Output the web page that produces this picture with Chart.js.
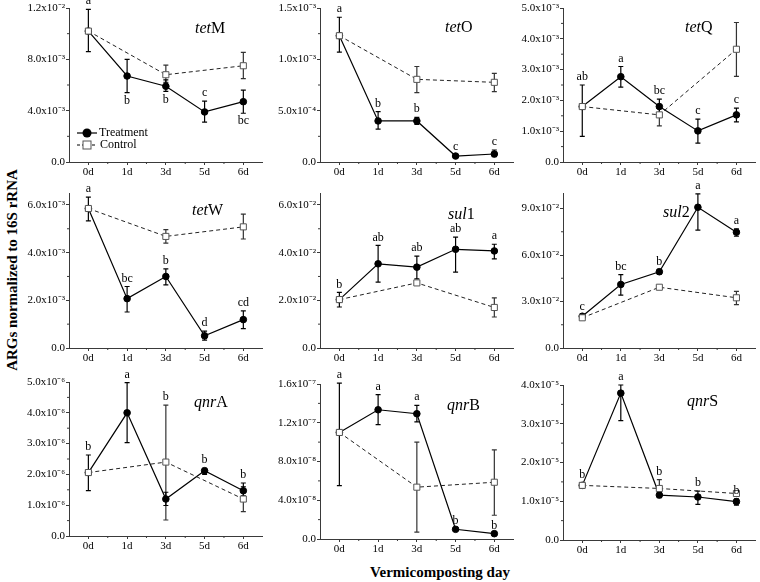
<!DOCTYPE html>
<html>
<head>
<meta charset="utf-8">
<script src="https://cdn.jsdelivr.net/npm/chart.js@4.4.1/dist/chart.umd.min.js"></script>
<style>
  html, body { margin: 0; padding: 0; background: #fff; }
  #wrap { position: relative; width: 760px; height: 582px; overflow: hidden; font-family: "Liberation Serif", "Times New Roman", serif; }
  #wrap canvas { position: absolute; }
  .axis-title { position: absolute; font-weight: bold; font-size: 15px; white-space: nowrap; color: #000; }
  #y-title { left: 12px; top: 270px; transform: translate(-50%, -50%) rotate(-90deg); }
  #x-title { left: 440px; top: 572px; transform: translate(-50%, -50%); }
</style>
</head>
<body>
<div id="wrap">
  <div id="y-title" class="axis-title">ARGs normalized to 16S rRNA</div>
  <div id="x-title" class="axis-title">Vermicomposting day</div>
</div>
<script>
const days = ["0d", "1d", "3d", "5d", "6d"];

// tetM
const tetM_trt = [10.2e-3, 6.7e-3, 5.9e-3, 3.9e-3, 4.7e-3];
const tetM_trtHi = [11.9e-3, 8.0e-3, 6.4e-3, 4.75e-3, 5.6e-3];
const tetM_trtLo = [8.6e-3, 5.4e-3, 5.5e-3, 3.1e-3, 3.8e-3];
const tetM_ctl = [10.2e-3, null, 6.8e-3, null, 7.5e-3];
const tetM_ctlHi = [null, null, 7.55e-3, null, 8.55e-3];
const tetM_ctlLo = [null, null, 6.2e-3, null, 6.5e-3];
const tetM_letters = ["a", "b", "b", "c", "bc"];
const tetM_yTicks = [0, 4e-3, 8e-3, 1.2e-2];

// tetO
const tetO_trt = [1.23e-3, 0.40e-3, 0.40e-3, 0.058e-3, 0.078e-3];
const tetO_trtHi = [1.41e-3, 0.49e-3, 0.435e-3, 0.07e-3, 0.117e-3];
const tetO_trtLo = [1.07e-3, 0.32e-3, 0.367e-3, 0.048e-3, 0.052e-3];
const tetO_ctl = [1.23e-3, null, 0.805e-3, null, 0.776e-3];
const tetO_ctlHi = [null, null, 0.93e-3, null, 0.864e-3];
const tetO_ctlLo = [null, null, 0.675e-3, null, 0.685e-3];
const tetO_letters = ["a", "b", "b", "c", "c"];
const tetO_yTicks = [0, 5e-4, 1.0e-3, 1.5e-3];

// tetQ
const tetQ_trt = [1.80e-3, 2.77e-3, 1.80e-3, 1.01e-3, 1.53e-3];
const tetQ_trtHi = [2.5e-3, 3.1e-3, 2.04e-3, 1.39e-3, 1.75e-3];
const tetQ_trtLo = [0.83e-3, 2.43e-3, 1.6e-3, 0.61e-3, 1.3e-3];
const tetQ_ctl = [1.80e-3, null, 1.53e-3, null, 3.66e-3];
const tetQ_ctlHi = [null, null, 1.85e-3, null, 4.53e-3];
const tetQ_ctlLo = [null, null, 1.17e-3, null, 2.78e-3];
const tetQ_letters = ["ab", "a", "bc", "c", "c"];
const tetQ_yTicks = [0, 1e-3, 2e-3, 3e-3, 4e-3, 5e-3];

// tetW
const tetW_trt = [5.85e-3, 2.07e-3, 3.0e-3, 0.51e-3, 1.19e-3];
const tetW_trtHi = [6.33e-3, 2.58e-3, 3.32e-3, 0.71e-3, 1.56e-3];
const tetW_trtLo = [5.33e-3, 1.51e-3, 2.65e-3, 0.33e-3, 0.81e-3];
const tetW_ctl = [5.85e-3, null, 4.68e-3, null, 5.08e-3];
const tetW_ctlHi = [null, null, 4.96e-3, null, 5.61e-3];
const tetW_ctlLo = [null, null, 4.4e-3, null, 4.57e-3];
const tetW_letters = ["a", "bc", "b", "d", "cd"];
const tetW_yTicks = [0, 2e-3, 4e-3, 6e-3];

// sul1
const sul1_trt = [2.03e-2, 3.53e-2, 3.39e-2, 4.14e-2, 4.07e-2];
const sul1_trtHi = [2.33e-2, 4.3e-2, 3.85e-2, 4.65e-2, 4.35e-2];
const sul1_trtLo = [1.72e-2, 2.76e-2, 2.9e-2, 3.18e-2, 3.74e-2];
const sul1_ctl = [2.03e-2, null, 2.73e-2, null, 1.70e-2];
const sul1_ctlHi = [null, null, 2.78e-2, null, 2.1e-2];
const sul1_ctlLo = [null, null, 2.68e-2, null, 1.3e-2];
const sul1_letters = ["b", "ab", "ab", "ab", "a"];
const sul1_yTicks = [0, 2e-2, 4e-2, 6e-2];

// sul2
const sul2_trt = [2.05e-2, 4.1e-2, 4.92e-2, 9.08e-2, 7.47e-2];
const sul2_trtHi = [2.15e-2, 4.74e-2, 5.07e-2, 9.95e-2, 7.69e-2];
const sul2_trtLo = [1.95e-2, 3.41e-2, 4.77e-2, 7.6e-2, 7.21e-2];
const sul2_ctl = [1.95e-2, null, 3.92e-2, null, 3.24e-2];
const sul2_ctlHi = [null, null, 4.02e-2, null, 3.65e-2];
const sul2_ctlLo = [null, null, 3.82e-2, null, 2.8e-2];
const sul2_letters = ["c", "bc", "b", "a", "a"];
const sul2_yTicks = [0, 3e-2, 6e-2, 9e-2];

// qnrA
const qnrA_trt = [2.06e-6, 4.0e-6, 1.2e-6, 2.12e-6, 1.47e-6];
const qnrA_trtHi = [2.63e-6, 4.98e-6, 1.42e-6, 2.2e-6, 1.72e-6];
const qnrA_trtLo = [1.47e-6, 3.03e-6, 0.99e-6, 2.0e-6, 1.3e-6];
const qnrA_ctl = [2.06e-6, null, 2.4e-6, null, 1.2e-6];
const qnrA_ctlHi = [null, null, 4.25e-6, null, 1.6e-6];
const qnrA_ctlLo = [null, null, 0.52e-6, null, 0.79e-6];
const qnrA_letters = ["b", "a", "b", "b", "b"];
const qnrA_yTicks = [0, 1e-6, 2e-6, 3e-6, 4e-6, 5e-6];

// qnrB
const qnrB_trt = [1.10e-7, 1.334e-7, 1.293e-7, 0.10e-7, 0.055e-7];
const qnrB_trtHi = [1.61e-7, 1.49e-7, 1.38e-7, null, null];
const qnrB_trtLo = [0.55e-7, 1.18e-7, 1.21e-7, null, null];
const qnrB_ctl = [1.10e-7, null, 0.535e-7, null, 0.586e-7];
const qnrB_ctlHi = [null, null, 1.0e-7, null, 0.92e-7];
const qnrB_ctlLo = [null, null, 0.07e-7, null, 0.245e-7];
const qnrB_letters = ["a", "a", "a", "b", "b"];
const qnrB_yTicks = [0, 4e-8, 8e-8, 1.2e-7, 1.6e-7];

// qnrS
const qnrS_trt = [1.41e-5, 3.79e-5, 1.16e-5, 1.11e-5, 0.99e-5];
const qnrS_trtHi = [1.48e-5, 4.0e-5, 1.23e-5, 1.26e-5, 1.06e-5];
const qnrS_trtLo = [1.34e-5, 3.08e-5, 1.09e-5, 0.92e-5, 0.9e-5];
const qnrS_ctl = [1.41e-5, null, 1.33e-5, null, 1.2e-5];
const qnrS_ctlHi = [null, null, 1.56e-5, null, 1.25e-5];
const qnrS_ctlLo = [null, null, 1.1e-5, null, 1.14e-5];
const qnrS_letters = ["b", "a", "b", "b", "b"];
const qnrS_yTicks = [0, 1e-5, 2e-5, 3e-5, 4e-5];

const yMax = [1.2e-2, 1.5e-3, 5e-3, 6.5e-3, 6.5e-2, 0.1, 5e-6, 1.6e-7, 4e-5];

// gene names: italic part + plain part
const geneItalic = ["tet", "tet", "tet", "tet", "sul", "sul", "qnr", "qnr", "qnr"];
const genePlain = ["M", "O", "Q", "W", "1", "2", "A", "B", "S"];

const trtAll = [tetM_trt, tetO_trt, tetQ_trt, tetW_trt, sul1_trt, sul2_trt, qnrA_trt, qnrB_trt, qnrS_trt];
const trtHiAll = [tetM_trtHi, tetO_trtHi, tetQ_trtHi, tetW_trtHi, sul1_trtHi, sul2_trtHi, qnrA_trtHi, qnrB_trtHi, qnrS_trtHi];
const trtLoAll = [tetM_trtLo, tetO_trtLo, tetQ_trtLo, tetW_trtLo, sul1_trtLo, sul2_trtLo, qnrA_trtLo, qnrB_trtLo, qnrS_trtLo];
const ctlAll = [tetM_ctl, tetO_ctl, tetQ_ctl, tetW_ctl, sul1_ctl, sul2_ctl, qnrA_ctl, qnrB_ctl, qnrS_ctl];
const ctlHiAll = [tetM_ctlHi, tetO_ctlHi, tetQ_ctlHi, tetW_ctlHi, sul1_ctlHi, sul2_ctlHi, qnrA_ctlHi, qnrB_ctlHi, qnrS_ctlHi];
const ctlLoAll = [tetM_ctlLo, tetO_ctlLo, tetQ_ctlLo, tetW_ctlLo, sul1_ctlLo, sul2_ctlLo, qnrA_ctlLo, qnrB_ctlLo, qnrS_ctlLo];
const lettersAll = [tetM_letters, tetO_letters, tetQ_letters, tetW_letters, sul1_letters, sul2_letters, qnrA_letters, qnrB_letters, qnrS_letters];
const yTicksAll = [tetM_yTicks, tetO_yTicks, tetQ_yTicks, tetW_yTicks, sul1_yTicks, sul2_yTicks, qnrA_yTicks, qnrB_yTicks, qnrS_yTicks];

// layout (page pixels)
const colAxisX = [69, 320, 563];
const colAreaW = [197, 197, 196];
const areaTop = [8, 8, 8, 193, 193, 193, 382, 384, 385];
const areaBottom = [162, 162, 162, 348, 348, 348, 536, 539, 540];
const titlePos = [[195, 29], [445, 28], [685, 28], [192, 211], [448, 215], [663, 213], [194, 403], [447, 406], [687, 402]];
// letters drawn below the bars instead of above
const letterDown = { 0: [false, true, true, false, true] };

const Y_W = 66, PAD_T = 12, PAD_R = 2, X_H = 22;
const SERIF = "'Liberation Serif', 'Times New Roman', serif";
const AXIS_COLOR = "#3a3a3a";

const SUP = { "-": "\u207B", "0": "\u2070", "1": "\u00B9", "2": "\u00B2", "3": "\u00B3", "4": "\u2074", "5": "\u2075", "6": "\u2076", "7": "\u2077", "8": "\u2078", "9": "\u2079" };
function sciLabel(v) {
  if (v === 0) return "0.0";
  const exp = Math.floor(Math.log10(v) + 1e-9);
  const mant = v / Math.pow(10, exp);
  return mant.toFixed(1) + "x10" + String(exp).split("").map((c) => SUP[c]).join("");
}

const errorBars = {
  id: "errorBars",
  beforeDatasetsDraw(chart) {
    const ctx = chart.ctx;
    const xs = chart.scales.x, ys = chart.scales.y;
    chart.data.datasets.forEach((ds) => {
      ctx.save();
      ctx.strokeStyle = ds.errColor;
      ctx.lineWidth = 1.2;
      ds.errHi.forEach((hi, j) => {
        const lo = ds.errLo[j];
        if (hi == null || lo == null) return;
        const x = xs.getPixelForValue(j);
        const yh = ys.getPixelForValue(hi), yl = ys.getPixelForValue(lo);
        ctx.beginPath();
        ctx.moveTo(x, yh); ctx.lineTo(x, yl);
        ctx.moveTo(x - 2.5, yh); ctx.lineTo(x + 2.5, yh);
        ctx.moveTo(x - 2.5, yl); ctx.lineTo(x + 2.5, yl);
        ctx.stroke();
      });
      ctx.restore();
    });
  },
};

const panelDecor = {
  id: "panelDecor",
  afterDraw(chart, args, opts) {
    const i = opts.panel;
    const ctx = chart.ctx;
    const xs = chart.scales.x, ys = chart.scales.y;
    const area = chart.chartArea;
    const offX = opts.left, offY = opts.top;

    // minor ticks
    ctx.save();
    ctx.strokeStyle = AXIS_COLOR;
    ctx.lineWidth = 1;
    ctx.beginPath();
    for (let j = 0; j < days.length - 1; j++) {
      const mx = (xs.getPixelForValue(j) + xs.getPixelForValue(j + 1)) / 2;
      ctx.moveTo(mx, area.bottom); ctx.lineTo(mx, area.bottom + 2);
    }
    const yt = yTicksAll[i];
    for (let j = 0; j < yt.length; j++) {
      const step = yt[1] - yt[0];
      const mv = yt[j] + step / 2;
      if (mv > yMax[i]) break;
      const my = ys.getPixelForValue(mv);
      ctx.moveTo(area.left, my); ctx.lineTo(area.left - 2, my);
    }
    ctx.stroke();
    ctx.restore();

    // significance letters: above (or below) the treatment bar, or above
    // both bars when the control bar covers the treatment point
    ctx.save();
    ctx.font = "12px " + SERIF;
    ctx.fillStyle = "#000";
    ctx.textAlign = "center";
    ctx.textBaseline = "middle";
    const down = letterDown[i] || [];
    const trt = trtAll[i], ctl = ctlAll[i];
    lettersAll[i].forEach((t, j) => {
      const hi = trtHiAll[i][j] ?? trt[j];
      const lo = trtLoAll[i][j] ?? trt[j];
      let top = hi, bottom = lo;
      const cHi = ctlHiAll[i][j], cLo = ctlLoAll[i][j];
      if (ctl[j] != null && cHi != null && cLo != null && cLo <= trt[j] && cHi >= trt[j]) {
        top = Math.max(top, cHi);
        bottom = Math.min(bottom, cLo);
      }
      const py = down[j] ? ys.getPixelForValue(bottom) + 8 : ys.getPixelForValue(top) - 8;
      ctx.fillText(t, xs.getPixelForValue(j), py);
    });
    ctx.restore();

    // gene name
    ctx.save();
    ctx.fillStyle = "#000";
    ctx.textBaseline = "middle";
    const [tx, ty] = titlePos[i];
    ctx.font = "italic 16px " + SERIF;
    ctx.fillText(geneItalic[i], tx - offX, ty - offY);
    const w = ctx.measureText(geneItalic[i]).width;
    ctx.font = "16px " + SERIF;
    ctx.fillText(genePlain[i], tx - offX + w, ty - offY);
    ctx.restore();

    // legend (first panel only)
    if (i === 0) {
      ctx.save();
      ctx.strokeStyle = "#000";
      ctx.lineWidth = 1.2;
      const lx0 = 77 - offX, lx1 = 97 - offX, lm = 87 - offX;
      const r1 = 133 - offY, r2 = 145 - offY;
      ctx.beginPath(); ctx.moveTo(lx0, r1); ctx.lineTo(lx1, r1); ctx.stroke();
      ctx.beginPath(); ctx.arc(lm, r1, 4.5, 0, Math.PI * 2); ctx.fillStyle = "#000"; ctx.fill();
      ctx.lineWidth = 1;
      ctx.setLineDash([3, 2]);
      ctx.beginPath(); ctx.moveTo(lx0, r2); ctx.lineTo(lx1, r2); ctx.stroke();
      ctx.setLineDash([]);
      ctx.fillStyle = "#fff";
      ctx.fillRect(lm - 4, r2 - 4, 8, 8);
      ctx.strokeStyle = "#555";
      ctx.strokeRect(lm - 4, r2 - 4, 8, 8);
      ctx.fillStyle = "#000";
      ctx.font = "12px " + SERIF;
      ctx.textBaseline = "middle";
      ctx.fillText("Treatment", 99 - offX, r1);
      ctx.fillText("Control", 100 - offX, r2);
      ctx.restore();
    }
  },
};

function makePanel(i) {
  const col = i % 3;
  const left = colAxisX[col] - Y_W;
  const top = areaTop[i] - PAD_T;
  const width = Y_W + colAreaW[col] + PAD_R;
  const height = PAD_T + (areaBottom[i] - areaTop[i]) + X_H;

  const canvas = document.createElement("canvas");
  canvas.width = width;
  canvas.height = height;
  canvas.style.left = left + "px";
  canvas.style.top = top + "px";
  canvas.style.width = width + "px";
  canvas.style.height = height + "px";
  document.getElementById("wrap").appendChild(canvas);

  const tickFont = { family: SERIF, size: 11 };

  new Chart(canvas, {
    type: "line",
    data: {
      labels: days,
      datasets: [
        {
          label: "Control",
          data: ctlAll[i],
          errHi: ctlHiAll[i],
          errLo: ctlLoAll[i],
          errColor: "#333",
          spanGaps: true,
          borderColor: "#222",
          borderWidth: 1,
          borderDash: [4, 3],
          pointStyle: "rect",
          pointRadius: 4.3,
          pointBackgroundColor: "#fff",
          pointBorderColor: "#555",
          pointBorderWidth: 1,
          tension: 0,
          clip: false,
        },
        {
          label: "Treatment",
          data: trtAll[i],
          errHi: trtHiAll[i],
          errLo: trtLoAll[i],
          errColor: "#000",
          borderColor: "#000",
          borderWidth: 1.2,
          pointStyle: "circle",
          pointRadius: 3.3,
          pointBackgroundColor: "#000",
          pointBorderColor: "#000",
          pointBorderWidth: 1,
          tension: 0,
          clip: false,
        },
      ],
    },
    options: {
      responsive: false,
      devicePixelRatio: 1,
      animation: false,
      layout: { padding: { top: PAD_T, right: PAD_R, left: 0, bottom: 0 } },
      scales: {
        x: {
          type: "category",
          offset: true,
          afterFit: (s) => { s.height = X_H; },
          grid: { offset: false, drawOnChartArea: false, drawTicks: true, tickLength: 3, color: AXIS_COLOR },
          border: { color: AXIS_COLOR, width: 1 },
          ticks: { font: tickFont, color: "#000", padding: 1, maxRotation: 0, autoSkip: false },
        },
        y: {
          min: 0,
          max: yMax[i],
          afterFit: (s) => { s.width = Y_W; },
          afterBuildTicks: (s) => { s.ticks = yTicksAll[i].map((v) => ({ value: v })); },
          grid: { drawOnChartArea: false, drawTicks: true, tickLength: 3, color: AXIS_COLOR },
          border: { color: AXIS_COLOR, width: 1 },
          ticks: { font: tickFont, color: "#000", padding: 1, callback: (v) => sciLabel(v) },
        },
      },
      plugins: {
        legend: { display: false },
        tooltip: { enabled: false },
        panelDecor: { panel: i, left: left, top: top },
      },
    },
    plugins: [errorBars, panelDecor],
  });
}

for (let i = 0; i < 9; i++) makePanel(i);
</script>
</body>
</html>
